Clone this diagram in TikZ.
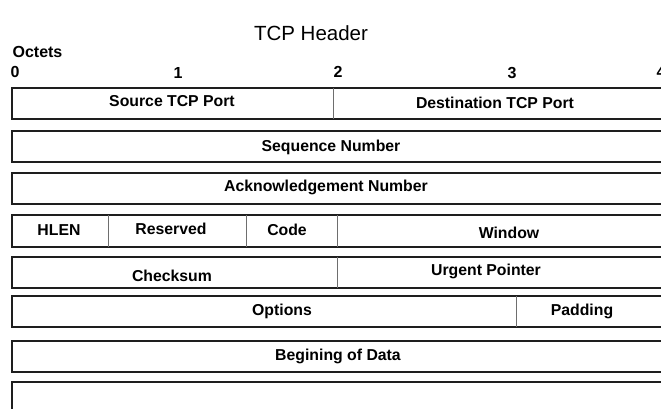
\documentclass[tikz,border=0pt]{standalone}
\usepackage{fontspec}
\setmainfont{Liberation Sans}
\usepackage{xcolor}
\usetikzlibrary{positioning}
\definecolor{tcp@line}{RGB}{30,30,30}
\definecolor{tcp@div}{RGB}{110,110,110}
\tikzset{
  tcphdr/.style={
    x=1pt, y=-1pt,
    line width=1.2pt,
    every node/.style={inner sep=0pt}
  },
  rowbox/.style={                  % one header word
    draw=tcp@line, line width=1.3pt, fill=white
  },
  fielddiv/.style={                % split inside a word
    draw=tcp@div, line width=1pt
  },
  flabel/.style={font=\fontsize{15.8}{18}\selectfont\bfseries},
  olabel/.style={font=\fontsize{16}{18}\selectfont\bfseries},
  tlabel/.style={font=\fontsize{20.5}{23}\selectfont}
}
\begin{document}
\begin{tikzpicture}[tcphdr]
\clip (0,0) rectangle (661,408);
\fill[white] (0,0) rectangle (661,408);

% Title and octet ruler
\node[tlabel] (title) at (311,33) {TCP Header};
\node[olabel, anchor=west] (octets) at (12,52) {Octets};
\node[olabel] (o0) at (15,72) {0};
\node[olabel] (o1) at (178,73) {1};
\node[olabel] (o2) at (338,72) {2};
\node[olabel] (o3) at (512,73) {3};
\node[olabel] (o4) at (661,72) {4};

% Rows of the header, each cut off at the right edge
\draw[rowbox] (12,88) rectangle (690,119);
\draw[rowbox] (12,131) rectangle (690,162);
\draw[rowbox] (12,173) rectangle (690,204);
\draw[rowbox] (12,215) rectangle (690,247);
\draw[rowbox] (12,257) rectangle (690,288);
\draw[rowbox] (12,296) rectangle (690,327);
\draw[rowbox] (12,341) rectangle (690,372);
\draw[rowbox] (12,382) rectangle (690,430);

% Field splits
\draw[fielddiv] (333,88) -- (333,119);
\draw[fielddiv] (108,215) -- (108,247);
\draw[fielddiv] (246,215) -- (246,247);
\draw[fielddiv] (337,215) -- (337,247);
\draw[fielddiv] (337,257) -- (337,288);
\draw[fielddiv] (516,296) -- (516,327);

% Field names
\node[flabel] (srcport) at (172,101) {Source TCP Port};
\node[flabel] (dstport) at (495,103) {Destination TCP Port};
\node[flabel] (seq) at (331,147) {Sequence Number};
\node[flabel] (ack) at (326,187) {Acknowledgement Number};
\node[flabel] (hlen) at (59,230) {HLEN};
\node[flabel] (resv) at (171,229) {Reserved};
\node[flabel] (code) at (287,230) {Code};
\node[flabel] (win) at (509,233) {Window};
\node[flabel] (csum) at (172,276) {Checksum};
\node[flabel] (urg) at (486,271) {Urgent Pointer};
\node[flabel] (opts) at (282,311) {Options};
\node[flabel] (pad) at (582,311) {Padding};
\node[flabel] (data) at (338,356) {Begining of Data};

\end{tikzpicture}
\end{document}
